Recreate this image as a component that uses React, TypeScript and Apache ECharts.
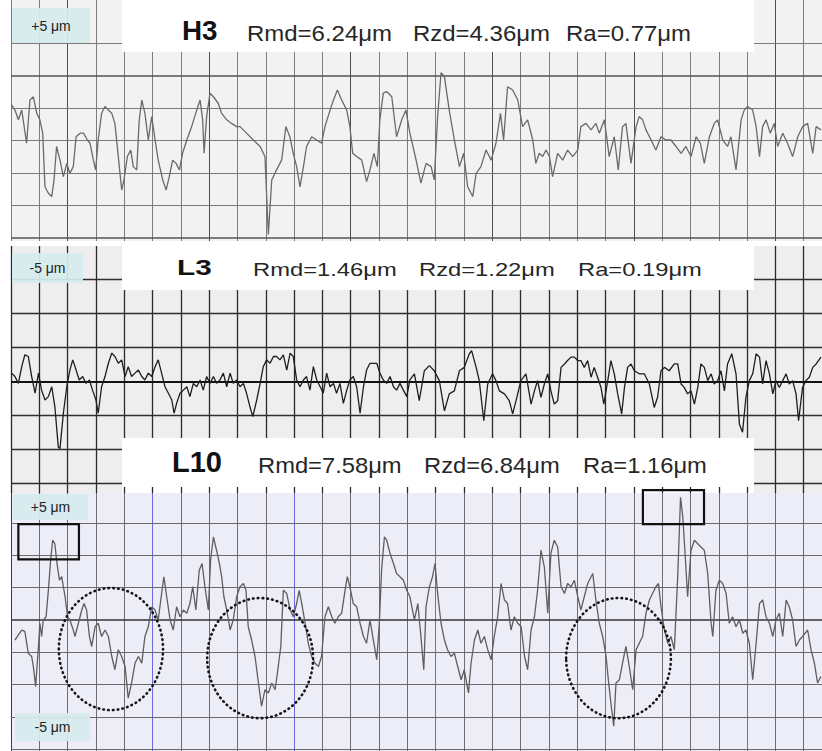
import React, { useEffect, useRef } from "react";
import * as echarts from "echarts";

// ---- data (x in grid divisions along the trace, y in grid divisions from the mean line) ----
const X_MAX = 28.647;

const H3_PROFILE: number[][] = [
  [0.02,1.09],[0.14,0.93],[0.26,0.63],[0.38,0.93],[0.55,-0.09],[0.67,1.24],[0.79,1.34],[0.91,0.83],[1.02,0.63],[1.12,0.22],
  [1.20,-1.43],[1.32,-1.63],[1.44,-1.73],[1.52,-1.22],[1.61,-0.19],[1.73,-0.61],[1.85,-1.12],[1.97,-0.71],[2.08,-1.02],[2.20,-0.81],
  [2.30,0.11],[2.44,0.22],[2.56,0.22],[2.70,0.01],[2.79,-0.09],[2.91,-0.61],[2.99,-0.91],[3.08,0.01],[3.20,0.83],[3.32,1.04],
  [3.44,0.93],[3.56,0.83],[3.67,0.52],[3.79,-0.50],[3.91,-1.53],[3.99,-1.22],[4.11,-0.50],[4.23,-0.30],[4.32,-0.81],[4.44,-0.91],
  [4.53,0.63],[4.62,1.24],[4.73,0.83],[4.85,0.01],[4.97,0.73],[5.09,0.01],[5.20,-0.61],[5.36,-1.22],[5.48,-1.53],[5.59,-1.12],
  [5.71,-0.61],[5.83,-0.71],[5.95,-0.91],[6.06,-0.40],[6.21,0.01],[6.38,0.42],[6.56,0.93],[6.68,1.24],[6.77,0.63],[6.82,-0.40],
  [6.91,0.73],[7.03,1.45],[7.15,1.34],[7.32,1.14],[7.44,0.83],[7.62,0.63],[7.79,0.52],[7.97,0.42],[8.09,0.42],[8.32,0.22],
  [8.56,0.01],[8.80,-0.19],[8.97,-0.50],[9.09,-2.90],[9.21,-1.22],[9.38,-0.91],[9.56,-0.61],[9.71,0.42],[9.85,0.11],[9.97,-0.40],
  [10.09,-0.81],[10.21,-1.43],[10.33,-0.81],[10.44,-0.19],[10.62,0.11],[10.80,0.01],[10.97,-0.09],[11.09,0.42],[11.27,0.93],[11.39,1.24],
  [11.53,1.55],[11.68,1.24],[11.86,0.93],[11.97,0.42],[12.07,-0.40],[12.21,-0.50],[12.39,-0.61],[12.56,-1.27],[12.68,-0.91],[12.82,-0.40],
  [12.94,-0.81],[13.03,0.63],[13.15,1.45],[13.27,1.50],[13.45,1.34],[13.62,0.11],[13.80,0.63],[13.95,0.93],[14.09,0.22],[14.31,-0.61],
  [14.48,-1.32],[14.66,-0.71],[14.84,-0.81],[14.95,-1.22],[15.07,0.73],[15.19,2.08],[15.31,1.96],[15.48,0.93],[15.66,0.01],[15.84,-0.81],
  [15.99,-0.40],[16.13,-1.43],[16.31,-1.73],[16.43,-1.02],[16.60,-0.81],[16.78,-0.30],[16.96,-0.61],[17.13,-0.09],[17.29,0.83],[17.40,0.01],
  [17.54,1.65],[17.72,1.55],[17.90,1.24],[18.07,0.42],[18.25,0.63],[18.43,0.01],[18.54,-0.71],[18.66,-0.40],[18.78,-0.50],[18.90,-0.30],
  [19.02,-0.50],[19.13,-1.12],[19.31,-0.40],[19.49,-0.61],[19.66,-0.30],[19.84,-0.50],[20.02,-0.30],[20.13,0.42],[20.31,0.52],[20.49,0.32],
  [20.66,0.52],[20.78,0.22],[20.96,0.63],[21.13,-0.50],[21.31,0.11],[21.45,-0.91],[21.60,0.42],[21.72,0.52],[21.90,-0.71],[22.08,0.42],
  [22.19,0.73],[22.31,0.63],[22.43,0.32],[22.61,0.01],[22.78,-0.30],[22.96,0.11],[23.14,0.01],[23.31,0.01],[23.49,-0.19],[23.67,-0.40],
  [23.84,-0.19],[24.02,-0.50],[24.20,0.11],[24.35,-0.09],[24.49,-0.71],[24.67,0.11],[24.84,0.52],[24.96,0.63],[25.14,0.01],[25.31,-0.19],
  [25.43,0.11],[25.61,-0.91],[25.79,0.63],[25.90,0.93],[26.02,1.04],[26.20,0.93],[26.32,0.42],[26.44,-0.50],[26.55,0.42],[26.67,0.63],
  [26.82,0.22],[26.96,0.52],[27.08,-0.19],[27.26,0.22],[27.43,-0.09],[27.61,-0.50],[27.79,0.11],[27.96,0.42],[28.14,0.52],[28.32,-0.40],
  [28.44,0.42],[28.61,0.32]
];

const L3_PROFILE: number[][] = [
  [0.02,0.24],[0.14,0.14],[0.26,-0.06],[0.38,0.43],[0.49,0.78],[0.61,0.73],[0.73,0.14],[0.85,-0.35],[0.97,0.24],[1.08,-0.26],
  [1.20,-0.55],[1.32,-0.45],[1.44,-0.16],[1.55,-0.75],[1.67,-1.93],[1.73,-1.98],[1.85,-0.94],[1.97,-0.16],[2.08,0.33],[2.18,0.63],
  [2.30,0.33],[2.41,0.04],[2.53,0.14],[2.65,-0.06],[2.77,0.04],[2.88,-0.26],[3.00,-0.55],[3.08,-0.94],[3.20,-0.16],[3.32,0.14],
  [3.44,0.53],[3.56,0.83],[3.67,0.73],[3.79,0.53],[3.91,0.63],[4.03,0.14],[4.14,0.43],[4.26,0.14],[4.38,0.24],[4.50,0.33],
  [4.62,0.14],[4.73,0.04],[4.85,0.24],[4.97,0.14],[5.09,0.43],[5.20,0.63],[5.32,0.24],[5.44,-0.16],[5.56,-0.35],[5.68,-0.55],
  [5.76,-0.94],[5.85,-0.65],[5.97,-0.35],[6.09,-0.26],[6.21,-0.16],[6.32,-0.45],[6.44,-0.06],[6.56,-0.16],[6.68,0.04],[6.79,-0.26],
  [6.91,0.14],[7.03,-0.06],[7.15,0.14],[7.26,-0.06],[7.38,0.04],[7.50,0.24],[7.62,-0.16],[7.74,0.24],[7.85,-0.06],[7.97,0.04],
  [8.09,-0.16],[8.21,-0.06],[8.32,-0.35],[8.44,-0.75],[8.54,-1.04],[8.68,-0.55],[8.80,-0.06],[8.91,0.43],[9.03,0.63],[9.15,0.53],
  [9.27,0.73],[9.38,0.73],[9.50,0.63],[9.62,0.78],[9.74,0.33],[9.86,0.83],[9.97,0.73],[10.09,0.04],[10.21,-0.16],[10.33,0.04],
  [10.44,0.14],[10.56,-0.26],[10.68,0.43],[10.80,0.04],[10.92,-0.16],[11.03,-0.35],[11.15,0.24],[11.27,-0.16],[11.39,-0.06],[11.50,-0.35],
  [11.62,-0.06],[11.74,-0.65],[11.86,-0.26],[11.97,0.04],[12.09,0.14],[12.21,-0.16],[12.33,-0.94],[12.45,-0.16],[12.56,0.33],[12.68,0.53],
  [12.80,0.53],[12.92,0.53],[13.03,0.24],[13.15,0.04],[13.27,-0.06],[13.39,0.14],[13.51,-0.16],[13.62,-0.26],[13.74,-0.06],[13.86,-0.26],
  [13.98,-0.45],[14.09,0.04],[14.25,0.22],[14.42,-0.57],[14.60,0.31],[14.78,0.46],[14.95,0.31],[15.13,0.02],[15.31,-0.87],[15.48,-0.37],
  [15.66,-0.28],[15.84,0.31],[16.01,0.41],[16.19,0.81],[16.27,0.90],[16.43,0.41],[16.54,0.02],[16.70,-1.16],[16.84,-0.08],[17.01,0.22],
  [17.13,0.02],[17.25,-0.28],[17.43,-0.37],[17.60,-0.57],[17.72,-0.96],[17.84,-0.57],[18.01,0.02],[18.19,0.22],[18.37,-0.67],[18.49,-0.28],
  [18.60,0.02],[18.72,-0.47],[18.84,-0.08],[18.96,0.22],[19.07,-0.28],[19.19,-0.67],[19.31,-0.57],[19.43,0.41],[19.55,0.51],[19.66,0.61],
  [19.78,0.71],[19.90,0.71],[20.02,0.61],[20.13,0.61],[20.25,0.41],[20.37,0.61],[20.49,0.12],[20.60,0.41],[20.72,0.12],[20.84,-0.18],
  [20.94,-0.67],[21.08,0.02],[21.19,0.61],[21.31,0.22],[21.43,-0.37],[21.57,-0.96],[21.67,-0.18],[21.78,0.41],[21.90,0.51],[22.02,0.31],
  [22.19,0.22],[22.37,0.22],[22.55,-0.08],[22.72,-0.77],[22.84,-0.47],[22.96,0.31],[23.08,0.41],[23.25,0.31],[23.43,0.51],[23.55,0.51],
  [23.67,-0.08],[23.78,-0.18],[23.90,-0.37],[24.02,-0.28],[24.14,-0.67],[24.26,-0.18],[24.37,0.51],[24.49,0.41],[24.61,0.02],[24.73,0.22],
  [24.84,-0.08],[24.96,0.02],[25.08,0.31],[25.20,-0.28],[25.31,0.51],[25.46,0.81],[25.61,0.22],[25.73,-1.26],[25.84,-1.50],[25.96,-0.47],
  [26.08,0.02],[26.20,0.22],[26.32,0.81],[26.44,0.71],[26.55,-0.08],[26.67,0.61],[26.79,0.22],[26.91,-0.37],[27.02,0.02],[27.14,-0.18],
  [27.26,0.02],[27.38,0.22],[27.49,-0.08],[27.61,0.02],[27.73,-0.37],[27.82,-1.16],[27.96,-0.18],[28.08,0.02],[28.20,0.12],[28.32,0.41],
  [28.44,0.51],[28.61,0.71]
];

const L10_PROFILE: number[][] = [
  [0.14,-0.62],[0.26,-0.46],[0.38,-0.31],[0.49,-0.36],[0.61,-1.03],[0.73,-1.13],[0.79,-1.44],[0.87,-2.06],[0.97,-0.82],[1.02,-0.10],
  [1.08,-0.51],[1.14,0.00],[1.24,0.10],[1.32,0.92],[1.40,1.85],[1.47,2.47],[1.55,2.36],[1.61,1.85],[1.71,1.23],[1.79,1.34],
  [1.91,0.72],[2.00,0.10],[2.08,0.00],[2.20,-0.31],[2.26,-0.51],[2.38,-0.10],[2.50,0.31],[2.58,0.51],[2.67,0.31],[2.77,-0.51],
  [2.85,-0.82],[2.97,-0.21],[3.08,-0.10],[3.20,-0.51],[3.32,-0.31],[3.44,-0.51],[3.56,-1.13],[3.67,-1.54],[3.79,-0.92],[3.91,-1.13],
  [4.03,-1.44],[4.14,-2.42],[4.26,-1.95],[4.38,-1.34],[4.50,-1.13],[4.62,-1.34],[4.73,-0.51],[4.85,-0.21],[4.97,0.41],[5.09,0.31],
  [5.20,0.00],[5.32,0.82],[5.40,1.34],[5.50,0.72],[5.62,0.00],[5.73,-0.31],[5.85,0.41],[5.97,0.10],[6.09,0.31],[6.21,0.21],
  [6.32,0.51],[6.42,1.03],[6.53,0.31],[6.65,1.54],[6.75,1.75],[6.85,1.03],[6.97,0.31],[7.05,1.85],[7.15,2.57],[7.26,2.16],
  [7.36,1.75],[7.44,1.34],[7.52,0.72],[7.62,0.31],[7.74,-0.31],[7.85,0.00],[7.97,0.72],[8.09,1.03],[8.21,1.13],[8.30,0.92],
  [8.38,-0.21],[8.50,-0.62],[8.62,-1.13],[8.74,-1.95],[8.85,-2.67],[8.97,-2.16],[9.09,-2.26],[9.21,-1.95],[9.33,-2.16],[9.44,-1.44],
  [9.53,-0.82],[9.62,0.92],[9.74,0.82],[9.86,0.31],[9.97,0.10],[10.09,0.51],[10.18,0.92],[10.27,0.51],[10.39,-0.10],[10.50,-0.72],
  [10.62,-1.13],[10.74,-1.34],[10.86,-1.44],[10.97,-1.13],[11.09,0.10],[11.21,0.41],[11.33,0.10],[11.44,-0.10],[11.56,0.10],[11.68,0.21],
  [11.80,0.92],[11.88,1.34],[11.97,1.03],[12.09,0.51],[12.21,0.41],[12.33,-0.10],[12.45,-0.51],[12.56,-0.72],[12.68,0.00],[12.80,-0.62],
  [12.92,-1.23],[13.01,-0.10],[13.09,1.54],[13.19,2.57],[13.27,2.47],[13.39,2.06],[13.51,1.75],[13.62,1.44],[13.74,1.34],[13.86,1.23],
  [13.98,0.92],[14.09,0.72],[14.25,0.00],[14.37,0.51],[14.48,-0.51],[14.58,-1.54],[14.66,0.41],[14.78,1.03],[14.89,1.34],[14.98,1.75],
  [15.07,0.82],[15.19,-0.10],[15.31,-0.62],[15.42,-0.92],[15.54,-1.13],[15.66,-1.03],[15.78,-1.44],[15.90,-1.85],[16.01,-1.54],[16.16,-2.26],
  [16.25,-1.34],[16.37,-0.62],[16.49,-0.31],[16.60,-0.72],[16.72,-0.51],[16.84,-0.92],[16.96,-1.23],[17.07,-0.51],[17.19,0.10],[17.31,1.13],
  [17.43,0.62],[17.54,0.51],[17.66,-0.31],[17.78,0.10],[17.90,-0.10],[18.02,-0.21],[18.14,-1.13],[18.25,-1.54],[18.37,-0.31],[18.49,0.10],
  [18.60,0.92],[18.72,2.16],[18.84,1.64],[18.96,0.21],[19.07,2.06],[19.19,2.47],[19.31,2.26],[19.43,1.03],[19.55,0.82],[19.66,1.13],
  [19.78,1.03],[19.90,1.23],[20.02,0.72],[20.13,0.31],[20.25,0.72],[20.37,1.13],[20.55,1.44],[20.66,0.62],[20.78,-0.10],[20.90,-0.51],
  [21.02,-1.13],[21.10,-1.85],[21.19,-2.57],[21.29,-3.29],[21.37,-1.95],[21.49,-1.85],[21.60,-1.34],[21.72,-0.82],[21.84,-1.44],[21.96,-2.16],
  [22.08,-0.92],[22.19,-0.72],[22.31,-0.51],[22.43,0.21],[22.55,0.62],[22.66,0.82],[22.78,1.03],[22.87,1.13],[22.96,0.41],[23.08,-0.31],
  [23.20,-0.72],[23.31,-0.51],[23.43,-0.92],[23.55,1.34],[23.65,3.80],[23.73,3.19],[23.81,2.06],[23.90,0.72],[24.02,2.16],[24.14,2.47],
  [24.26,2.36],[24.37,2.26],[24.49,2.16],[24.61,1.44],[24.73,-0.10],[24.79,-0.51],[24.90,0.92],[25.02,1.23],[25.14,1.13],[25.26,0.82],
  [25.37,-0.10],[25.49,0.10],[25.61,-0.21],[25.73,0.00],[25.85,-0.41],[25.96,-0.31],[26.08,-0.72],[26.20,-1.85],[26.32,-0.72],[26.44,0.51],
  [26.55,0.62],[26.67,0.10],[26.79,-0.10],[26.91,-0.51],[27.02,0.00],[27.14,0.21],[27.26,-0.51],[27.38,0.62],[27.49,0.41],[27.61,0.00],
  [27.73,-0.82],[27.85,-0.62],[27.96,-0.51],[28.14,-0.31],[28.26,-0.92],[28.38,-1.34],[28.49,-1.95],[28.61,-1.75]
];

const H3_HLINES = [-3, -2, -1, 0, 1, 2, 3];
const L3_HLINES = [-3, -2, -1, 0, 1, 2, 3];
const L10_HLINES = [-4, -3, -2, -1, 0, 1, 2, 3];
const H3_MAJOR_V = [2, 7, 12, 17, 22, 27];
const L10_BLUE_V = [5, 10, 15, 21, 26];

const TITLES = ["H3", "L3", "L10"];
const H3_PARAMS = ["Rmd=6.24μm", "Rzd=4.36μm", "Ra=0.77μm"];
const L3_PARAMS = ["Rmd=1.46μm", "Rzd=1.22μm", "Ra=0.19μm"];
const L10_PARAMS = ["Rmd=7.58μm", "Rzd=6.84μm", "Ra=1.16μm"];
const SCALE_LABELS = ["+5 μm", "-5 μm", "+5 μm", "-5 μm"];

// annotation marks on L10, in data units: [x0, y0, x1, y1] and [cx, cy, rx, ry]
const L10_BOXES: number[][] = [
  [0.26, 2.97, 2.40, 1.88],
  [22.32, 4.02, 24.48, 2.97],
];
const L10_CIRCLES: number[][] = [
  [3.53, -0.90, 1.84, 1.89],
  [8.80, -1.18, 1.87, 1.86],
  [21.46, -1.18, 1.85, 1.86],
];

const FONT = "'Liberation Sans', Arial, sans-serif";

function vColors(n: number, pick: (k: number) => string) {
  const out: string[] = [];
  for (let k = 0; k < n; k++) out.push(pick(k));
  return out;
}

export default function App() {
  const ref = useRef<HTMLDivElement>(null);

  useEffect(() => {
    if (!ref.current) return;
    const chart = echarts.init(ref.current, undefined, { renderer: "svg" });

    const xAxisBase = (gridIndex: number, colors: string[], width: number) => ({
      gridIndex,
      type: "value",
      min: 0,
      max: X_MAX,
      interval: 1,
      axisLine: { show: false, onZero: false },
      axisTick: { show: false },
      axisLabel: { show: false },
      splitLine: { show: true, showMaxLine: false, lineStyle: { color: colors, width } },
    });
    const yAxisBase = (gridIndex: number, min: number, max: number) => ({
      gridIndex,
      type: "value",
      min,
      max,
      axisLine: { show: false, onZero: false },
      axisTick: { show: false },
      axisLabel: { show: false },
      splitLine: { show: false },
    });

    const hLines = (vals: number[], style: (v: number) => any) => ({
      silent: true,
      z: 1,
      symbol: ["none", "none"],
      label: { show: false },
      lineStyle: { type: "solid" },
      emphasis: { disabled: true },
      data: vals.map((v) => ({ yAxis: v, lineStyle: { type: "solid", ...style(v) } })),
    });

    const headerText = (t: string, x: number, y: number, size: number, bold: boolean, sx: number) => ({
      type: "text",
      x,
      y,
      scaleX: sx,
      z: 45,
      silent: true,
      style: {
        text: t,
        fill: bold ? "#111" : "#262626",
        font: `${bold ? "bold " : ""}${size}px ${FONT}`,
        align: "left",
        verticalAlign: "middle",
      },
    });

    const scaleBox = (label: string, x: number, y: number, w: number, h: number) => [
      {
        type: "rect",
        z: 60,
        silent: true,
        shape: { x, y, width: w, height: h },
        style: { fill: "rgba(214,236,238,0.93)" },
      },
      {
        type: "text",
        z: 61,
        silent: true,
        x: x + w / 2,
        y: y + h / 2,
        style: {
          text: label,
          fill: "#222",
          font: `14px ${FONT}`,
          align: "center",
          verticalAlign: "middle",
        },
      },
    ];

    const headerRect = (y: number, h: number) => ({
      type: "rect",
      z: 40,
      silent: true,
      shape: { x: 122, y, width: 632, height: h },
      style: { fill: "#ffffff" },
    });

    // background of the L3 panel, drawn beneath its grid lines; the middle of its
    // lowest strip stays white so that its vertical lines read as ticks above L10
    const bgRect = (x: number, y: number, w: number, h: number, fill: string) => ({
      type: "rect",
      z: -1,
      silent: true,
      shape: { x, y, width: w, height: h },
      style: { fill },
    });

    const option: any = {
      animation: false,
      grid: [
        { left: 11, top: 0, width: 811, height: 241, show: true, backgroundColor: "#f2f2f2", borderWidth: 0 },
        { left: 11, top: 246, width: 811, height: 247, show: false },
        { left: 11, top: 493, width: 811, height: 258, show: true, backgroundColor: "#ededf8", borderWidth: 0 },
      ],
      xAxis: [
        xAxisBase(0, vColors(29, (k) => (H3_MAJOR_V.includes(k) ? "#4e4e4e" : "#7c7c7c")), 1),
        xAxisBase(1, vColors(29, () => "#2a2a2a"), 1.3),
        xAxisBase(2, vColors(29, (k) => (L10_BLUE_V.includes(k) ? "#6a6ad8" : k === 0 ? "#3a3a3a" : "#6e6e6e")), 1),
      ],
      yAxis: [
        yAxisBase(0, -3.098, 4.317),
        yAxisBase(1, -3.285, 3.979),
        yAxisBase(2, -4.056, 3.932),
      ],
      series: [
        {
          type: "line",
          xAxisIndex: 0,
          yAxisIndex: 0,
          data: H3_PROFILE,
          symbol: "none",
          z: 3,
          lineStyle: { color: "#6a6a6a", width: 1.3 },
          markLine: hLines(H3_HLINES, (v) => ({
            color: v === 2 || v === -3 ? "#555" : "#7a7a7a",
            width: v === 2 || v === -3 ? 1.6 : 1,
          })),
        },
        {
          type: "line",
          xAxisIndex: 1,
          yAxisIndex: 1,
          data: L3_PROFILE,
          symbol: "none",
          z: 3,
          lineStyle: { color: "#1e1e1e", width: 1.3 },
          markLine: hLines(L3_HLINES, (v) => ({
            color: v === 0 ? "#111" : "#2e2e2e",
            width: v === 0 ? 2.2 : 1.3,
          })),
        },
        {
          type: "line",
          xAxisIndex: 2,
          yAxisIndex: 2,
          data: L10_PROFILE,
          symbol: "none",
          z: 3,
          lineStyle: { color: "#5e5e5e", width: 1.3 },
          markLine: hLines(L10_HLINES, (v) => ({
            color: v === 0 ? "#333" : "#6a6a6a",
            width: v === 0 ? 1.7 : 1,
          })),
        },
        {
          type: "custom",
          xAxisIndex: 2,
          yAxisIndex: 2,
          z: 55,
          silent: true,
          clip: false,
          encode: { x: [0, 2], y: [1, 3] },
          data: L10_BOXES,
          renderItem: (params: any, api: any) => {
            const p0 = api.coord([api.value(0), api.value(1)]);
            const p1 = api.coord([api.value(2), api.value(3)]);
            return {
              type: "rect",
              shape: {
                x: Math.min(p0[0], p1[0]),
                y: Math.min(p0[1], p1[1]),
                width: Math.abs(p1[0] - p0[0]),
                height: Math.abs(p1[1] - p0[1]),
              },
              style: { fill: "rgba(0,0,0,0)", stroke: "#111", lineWidth: 2.2 },
            };
          },
        },
        {
          type: "custom",
          xAxisIndex: 2,
          yAxisIndex: 2,
          z: 20,
          silent: true,
          clip: false,
          encode: { x: 0, y: 1 },
          data: L10_CIRCLES,
          renderItem: (params: any, api: any) => {
            const c = api.coord([api.value(0), api.value(1)]);
            const s = api.size([api.value(2), api.value(3)]);
            return {
              type: "ellipse",
              shape: { cx: c[0], cy: c[1], rx: s[0], ry: s[1] },
              style: {
                fill: "rgba(0,0,0,0)",
                stroke: "#151515",
                lineWidth: 2.6,
                lineDash: [0.6, 4.2],
                lineCap: "round",
              },
            };
          },
        },
      ],
      graphic: [
        bgRect(11, 246, 811, 241, "#eeeeee"),
        bgRect(11, 487, 111, 6, "#eeeeee"),
        bgRect(754, 487, 68, 6, "#eeeeee"),
        headerRect(0, 52),
        headerRect(241, 49),
        headerRect(438, 49),
        headerText(TITLES[0], 182, 31, 27, true, 1.03),
        headerText(H3_PARAMS[0], 247, 33, 22, false, 1.09),
        headerText(H3_PARAMS[1], 413, 33, 22, false, 1.09),
        headerText(H3_PARAMS[2], 566, 33, 22, false, 1.09),
        headerText(TITLES[1], 177, 267.5, 22, true, 1.35),
        headerText(L3_PARAMS[0], 253, 270, 19, false, 1.25),
        headerText(L3_PARAMS[1], 419, 270, 19, false, 1.25),
        headerText(L3_PARAMS[2], 578, 270, 19, false, 1.25),
        headerText(TITLES[2], 172, 462, 29, true, 1.0),
        headerText(L10_PARAMS[0], 258, 465, 22, false, 1.08),
        headerText(L10_PARAMS[1], 424, 465, 22, false, 1.08),
        headerText(L10_PARAMS[2], 583, 465, 22, false, 1.08),
        ...scaleBox(SCALE_LABELS[0], 12, 8, 78, 35),
        ...scaleBox(SCALE_LABELS[1], 12, 253, 71, 30),
        ...scaleBox(SCALE_LABELS[2], 13, 494, 75, 26),
        ...scaleBox(SCALE_LABELS[3], 15, 713, 75, 28),
      ],
    };

    chart.setOption(option);
    return () => chart.dispose();
  }, []);

  return (
    <div
      ref={ref}
      style={{ position: "absolute", left: 0, top: 0, width: 822, height: 751, background: "#fff" }}
    />
  );
}
